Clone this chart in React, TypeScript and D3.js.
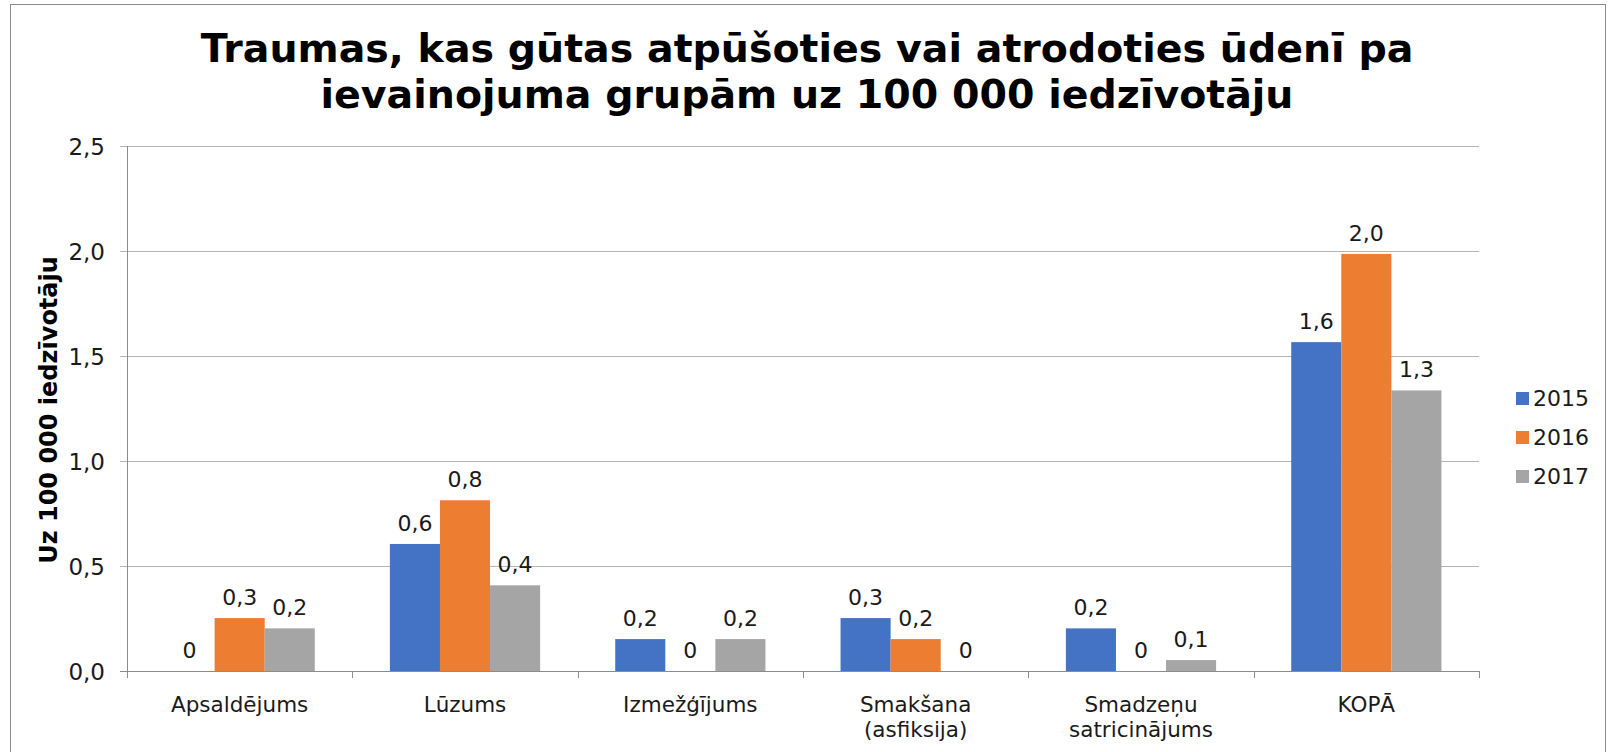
import {useEffect, useRef} from "react";
import * as d3 from "d3";

// chart data
const categories = ["Apsaldējums", "Lūzums", "Izmežģījums", "Smakšana\n(asfiksija)", "Smadzeņu\nsatricinājums", "KOPĀ"];
const years = ["2015", "2016", "2017"];
const values2015 = [0, 0.605, 0.152, 0.252, 0.203, 1.566];
const values2016 = [0.252, 0.813, 0, 0.152, 0, 1.986];
const values2017 = [0.203, 0.408, 0.152, 0, 0.052, 1.336];
const yTicks = [0, 0.5, 1.0, 1.5, 2.0, 2.5];
const colors = ["#4472C4", "#ED7D31", "#A5A5A5"];

const titleLines = ["Traumas, kas gūtas atpūšoties vai atrodoties ūdenī pa", "ievainojuma grupām uz 100 000 iedzīvotāju"];
const yTitle = "Uz 100 000 iedzīvotāju";

const font = "'DejaVu Sans', Verdana, sans-serif";

function App() {
    const ref = useRef<SVGSVGElement>(null);

    useEffect(() => {
        const width = 1610, height = 752;
        const margin = {top: 146, right: 131, bottom: 81, left: 127};

        const svg = d3.select(ref.current);
        svg.selectAll("*").remove();
        svg.attr("width", width).attr("height", height);

        // outer chart border
        svg.append("rect")
            .attr("x", 10.5).attr("y", 4.5)
            .attr("width", 1595).attr("height", 760)
            .attr("fill", "white")
            .attr("stroke", "#8c8c8c");

        // title
        svg.selectAll("text.title")
            .data(titleLines)
            .enter()
            .append("text")
            .attr("class", "title")
            .attr("x", 807)
            .attr("y", (d, i) => 62 + i * 46)
            .attr("text-anchor", "middle")
            .attr("font-family", font)
            .attr("font-weight", "bold")
            .attr("font-size", "39.5px")
            .text(d => d);

        const x0 = d3.scaleBand().domain(categories).range([margin.left, width - margin.right]);
        const x1 = d3.scaleBand().domain(years).range([0, x0.bandwidth()]).paddingOuter(0.75).paddingInner(0);
        const y = d3.scaleLinear().domain([0, 2.5]).range([height - margin.bottom, margin.top]);

        const series = [values2015, values2016, values2017];

        // gridlines
        svg.selectAll("line.grid")
            .data(yTicks)
            .enter()
            .append("line")
            .attr("x1", margin.left - 7)
            .attr("x2", width - margin.right)
            .attr("y1", d => Math.round(y(d)) + 0.5)
            .attr("y2", d => Math.round(y(d)) + 0.5)
            .attr("stroke", d => d === 0 ? "#8c8c8c" : "#b4b4b4")
            .attr("stroke-width", 1);

        // y axis line
        svg.append("line")
            .attr("x1", margin.left + 0.5).attr("x2", margin.left + 0.5)
            .attr("y1", y(2.5)).attr("y2", y(0) + 7)
            .attr("stroke", "#8c8c8c");

        // y tick labels
        svg.selectAll("text.ytick")
            .data(yTicks)
            .enter()
            .append("text")
            .attr("x", margin.left - 22)
            .attr("y", d => y(d) + 9)
            .attr("text-anchor", "end")
            .attr("font-family", font)
            .attr("font-size", "23px")
            .attr("fill", "#1a1a1a")
            .text(d => d3.format(".1f")(d).replace(".", ","));

        // category tick marks
        const bounds = categories.map(c => x0(c)).concat([width - margin.right]);
        svg.selectAll("line.xtick")
            .data(bounds)
            .enter()
            .append("line")
            .attr("x1", d => Math.round(d) + 0.5)
            .attr("x2", d => Math.round(d) + 0.5)
            .attr("y1", y(0))
            .attr("y2", y(0) + 7)
            .attr("stroke", "#8c8c8c");

        // bars
        const groups = svg.selectAll("g.cat")
            .data(categories)
            .enter()
            .append("g")
            .attr("transform", d => "translate(" + x0(d) + ",0)");

        groups.selectAll("rect")
            .data((d, i) => years.map((yr, j) => ({yr, v: series[j][i], c: colors[j]})))
            .enter()
            .append("rect")
            .attr("x", d => x1(d.yr))
            .attr("y", d => y(d.v))
            .attr("width", x1.bandwidth())
            .attr("height", d => y(0) - y(d.v))
            .attr("fill", d => d.c);

        // data labels
        groups.selectAll("text")
            .data((d, i) => years.map((yr, j) => ({yr, v: series[j][i]})))
            .enter()
            .append("text")
            .attr("x", d => x1(d.yr) + x1.bandwidth() / 2)
            .attr("y", d => y(d.v) - 13)
            .attr("text-anchor", "middle")
            .attr("font-family", font)
            .attr("font-size", "22px")
            .attr("fill", "#1a1a1a")
            .text(d => d.v === 0 ? "0" : d3.format(".1f")(d.v).replace(".", ","));

        // category labels
        const catText = svg.selectAll("text.cat")
            .data(categories)
            .enter()
            .append("text")
            .attr("class", "cat")
            .attr("x", d => x0(d) + x0.bandwidth() / 2)
            .attr("y", y(0) + 41)
            .attr("text-anchor", "middle")
            .attr("font-family", font)
            .attr("font-size", "21.5px")
            .attr("fill", "#1a1a1a");
        catText.selectAll("tspan")
            .data(d => d.split("\n"))
            .enter()
            .append("tspan")
            .attr("x", function () {
                return (this.parentNode as SVGTextElement).getAttribute("x");
            })
            .attr("dy", (d, i) => i === 0 ? 0 : 25)
            .text(d => d);

        // y axis title
        svg.append("text")
            .attr("transform", "translate(57,410) rotate(-90)")
            .attr("text-anchor", "middle")
            .attr("font-family", font)
            .attr("font-weight", "bold")
            .attr("font-size", "24px")
            .text(yTitle);

        // legend
        const legend = svg.selectAll("g.legend")
            .data(years)
            .enter()
            .append("g")
            .attr("transform", (d, i) => "translate(1516," + (406 + i * 39) + ")");
        legend.append("rect")
            .attr("x", 0).attr("y", -14)
            .attr("width", 13).attr("height", 13)
            .attr("fill", (d, i) => colors[i]);
        legend.append("text")
            .attr("x", 17)
            .attr("y", 0)
            .attr("font-family", font)
            .attr("font-size", "22px")
            .attr("fill", "#1a1a1a")
            .text(d => d);
    }, []);

    return <svg ref={ref} style={{position: "absolute", left: 0, top: 0}}></svg>
}

export default App;
